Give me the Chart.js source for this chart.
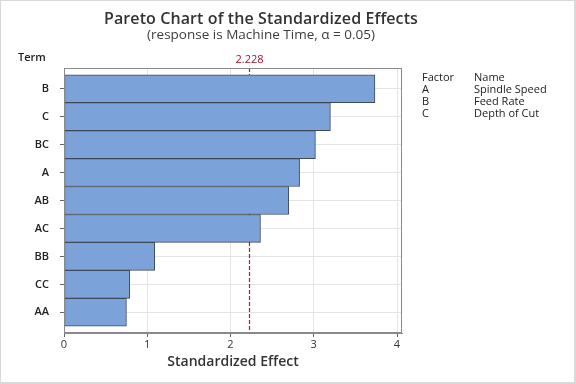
<!DOCTYPE html>
<html>
<head>
<meta charset="utf-8">
<script src="https://cdn.jsdelivr.net/npm/chart.js@4/dist/chart.umd.min.js"></script>
<style>
  html, body { margin: 0; padding: 0; background: #fff; }
  #wrap { position: relative; width: 576px; height: 384px; overflow: hidden; font-family: "Open Sans", "DejaVu Sans", sans-serif; }
  #c { position: absolute; left: 0; top: 0; }
  .frame { position: absolute; left: 0; top: 0; width: 576px; height: 384px; box-sizing: border-box; border: 1px solid #d9d9d9; border-right-width: 2px; border-bottom-width: 2px; pointer-events: none; }
  .t { position: absolute; white-space: nowrap; color: #333; }
  #title { left: 0; width: 522px; top: 7px; text-align: center; font-size: 16px; font-weight: 600; letter-spacing: 0.1px; line-height: 22px; }
  #subtitle { left: 0; width: 522px; top: 25px; text-align: center; font-size: 13.5px; font-weight: 400; color: #3d3d3d; line-height: 18px; }
  #term { left: 18px; top: 49px; font-size: 11px; font-weight: 600; color: #222; line-height: 15px; }
  .leg { font-size: 11px; color: #222; line-height: 12px; }
</style>
</head>
<body>
<div id="wrap">
  <canvas id="c" width="576" height="384"></canvas>
  <div class="t" id="title">Pareto Chart of the Standardized Effects</div>
  <div class="t" id="subtitle">(response is Machine Time, α = 0.05)</div>
  <div class="t" id="term">Term</div>
  <div id="legend"></div>
  <div class="frame"></div>
</div>
<script>
// ---- data ----
const terms = ["B", "C", "BC", "A", "AB", "AC", "BB", "CC", "AA"];
const effects = [3.735, 3.20, 3.02, 2.83, 2.70, 2.36, 1.09, 0.79, 0.75];
const xTicks = [0, 1, 2, 3, 4];
const refValue = 2.228;
const refLabel = "2.228";
const factorCodes = ["A", "B", "C"];
const factorNames = ["Spindle Speed", "Feed Rate", "Depth of Cut"];

// legend table (HTML text)
const legend = document.getElementById('legend');
function addLeg(text, x, y) {
  const d = document.createElement('div');
  d.className = 't leg';
  d.style.left = x + 'px';
  d.style.top = y + 'px';
  d.textContent = text;
  legend.appendChild(d);
}
addLeg("Factor", 422, 71);
addLeg("Name", 474, 71);
factorCodes.forEach((c, i) => {
  addLeg(c, 422, 83 + i * 12);
  addLeg(factorNames[i], 474, 83 + i * 12);
});

const FONT = "'Open Sans', 'DejaVu Sans', sans-serif";

const plugins = [{
  id: 'bgAndRef',
  beforeDraw(chart) {
    const ctx = chart.ctx;
    ctx.save();
    ctx.fillStyle = '#fff';
    ctx.fillRect(0, 0, chart.width, chart.height);
    ctx.restore();
  },
  beforeDatasetsDraw(chart) {
    const {ctx, chartArea: a, scales: {x}} = chart;
    const px = Math.round(x.getPixelForValue(refValue)) + 0.5;
    ctx.save();
    ctx.strokeStyle = '#c8102e';
    ctx.lineWidth = 1.2;
    ctx.setLineDash([4, 2]);
    ctx.beginPath();
    ctx.moveTo(px, a.top);
    ctx.lineTo(px, a.bottom);
    ctx.stroke();
    ctx.setLineDash([]);
    ctx.fillStyle = '#a3122a';
    ctx.font = "11px " + FONT;
    ctx.textAlign = 'center';
    ctx.textBaseline = 'middle';
    ctx.fillText(refLabel, px, a.top - 8);
    ctx.restore();
  },
  afterDraw(chart) {
    const {ctx, chartArea: a} = chart;
    ctx.save();
    ctx.strokeStyle = '#8a8a8a';
    ctx.lineWidth = 1;
    ctx.strokeRect(Math.round(a.left) + 0.5, Math.round(a.top) + 0.5, Math.round(a.right - a.left) - 1, Math.round(a.bottom - a.top) - 1);
    ctx.restore();
  }
}];

new Chart(document.getElementById('c'), {
  type: 'bar',
  data: {
    datasets: [{
      data: effects.map((v, i) => ({x: v, y: i})),
      backgroundColor: '#7ba3d9',
      borderColor: '#3e4859',
      borderWidth: 1,
      borderSkipped: false,
      barPercentage: 1,
      categoryPercentage: 1
    }]
  },
  options: {
    indexAxis: 'y',
    responsive: false,
    animation: false,
    layout: { padding: { top: 68, right: 174, left: 0, bottom: 0 } },
    plugins: { legend: { display: false }, tooltip: { enabled: false } },
    scales: {
      x: {
        type: 'linear',
        min: 0,
        max: 4.06,
        bounds: 'data',
        offset: false,
        afterBuildTicks(s) { s.ticks = xTicks.map(v => ({value: v})); },
        afterFit(s) { s.height = 51; },
        grid: { color: '#e4e4e4', tickColor: '#666', tickLength: 4, drawTicks: true, offset: false },
        border: { color: '#8a8a8a' },
        ticks: { color: '#333', font: { size: 11, family: FONT }, padding: 1, maxRotation: 0, callback: v => String(v) },
        title: { display: true, text: 'Standardized Effect', color: '#333', font: { size: 14, weight: '600', family: FONT }, padding: { top: 0, bottom: 14 } }
      },
      y: {
        type: 'linear',
        reverse: true,
        min: -0.74,
        max: 8.74,
        bounds: 'data',
        offset: false,
        afterBuildTicks(s) { s.ticks = terms.map((_, i) => ({value: i})); },
        afterFit(s) { s.width = 64; },
        grid: { color: '#e4e4e4', tickColor: '#666', tickLength: 4, drawTicks: true, offset: false },
        border: { color: '#8a8a8a' },
        ticks: { color: '#222', font: { size: 11, weight: '600', family: FONT }, padding: 11, callback: v => terms[v] }
      }
    }
  },
  plugins
});
</script>
</body>
</html>
